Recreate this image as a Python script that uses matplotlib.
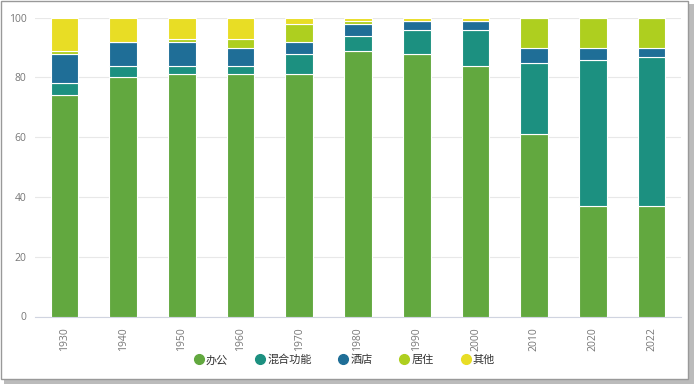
import matplotlib
matplotlib.use("Agg")
import matplotlib.pyplot as plt
from matplotlib.patches import Rectangle
from matplotlib.lines import Line2D
import numpy as np

plt.rcParams['font.family'] = ['Open Sans', 'Noto Sans CJK SC', 'DejaVu Sans']

# data (percent shares per decade)
years = ['1930', '1940', '1950', '1960', '1970', '1980', '1990', '2000', '2010', '2020', '2022']
office = [74, 80, 81, 81, 81, 89, 88, 84, 61, 37, 37]
mixed = [4, 4, 3, 3, 7, 5, 8, 12, 24, 49, 50]
hotel = [10, 8, 8, 6, 4, 4, 3, 3, 5, 4, 3]
residence = [1, 0, 1, 3, 6, 1, 0, 0, 10, 10, 10]
other = [11, 8, 7, 7, 2, 1, 1, 1, 0, 0, 0]

series_names = ['办公', '混合功能', '酒店', '居住', '其他']
colors = ['#62a83f', '#1c9080', '#1f6e97', '#aecf1f', '#e8dd25']

fig = plt.figure(figsize=(6.94, 3.84), dpi=100)
ax = fig.add_axes([35 / 694, 1 - 316.5 / 384, 646 / 694, 298.8 / 384])

x = np.arange(len(years))
bottom = np.zeros(len(years))
for vals, col in zip([office, mixed, hotel, residence, other], colors):
    vals = np.array(vals, dtype=float)
    ax.bar(x, vals, width=0.47, bottom=bottom, color=col, edgecolor='white', linewidth=0.8, zorder=3)
    bottom += vals

ax.set_xlim(-0.5, len(years) - 0.5)
ax.set_ylim(0, 100)
ax.set_yticks([0, 20, 40, 60, 80, 100])
ax.set_xticks(x)
ax.set_xticklabels(years, rotation=90)
ax.tick_params(axis='both', length=0, labelsize=7.5, labelcolor='#777777')
ax.tick_params(axis='x', pad=8)
ax.tick_params(axis='y', pad=6)
ax.grid(axis='y', color='#e8e8e8', linewidth=0.8, zorder=0)
for s in ['top', 'right', 'left']:
    ax.spines[s].set_visible(False)
ax.spines['bottom'].set_color('#d0d4e0')
ax.spines['bottom'].set_linewidth(0.8)

# legend
handles = [Line2D([0], [0], marker='o', linestyle='', markersize=7, markerfacecolor=c, markeredgecolor=c) for c in colors]
leg = fig.legend(handles, series_names, loc='center', bbox_to_anchor=(345 / 694, 1 - 360 / 384), ncol=5, frameon=False,
                 handlelength=0.7, handletextpad=0.3, columnspacing=2.5,
                 prop={'family': 'Noto Sans CJK SC', 'size': 8})
for t in leg.get_texts():
    t.set_color('#333333')

# frame with a soft shadow like the screenshot
fig.patches.append(Rectangle((4 / 694, 0), 690 / 694, 380 / 384, transform=fig.transFigure,
                             facecolor='#bbbbbb', edgecolor='none', zorder=-3))
fig.patches.append(Rectangle((1 / 694, 5 / 384), 687 / 694, 378 / 384, transform=fig.transFigure,
                             facecolor='white', edgecolor='#999999', linewidth=1, zorder=-2))

fig.savefig('out.png', dpi=100, facecolor='white')
